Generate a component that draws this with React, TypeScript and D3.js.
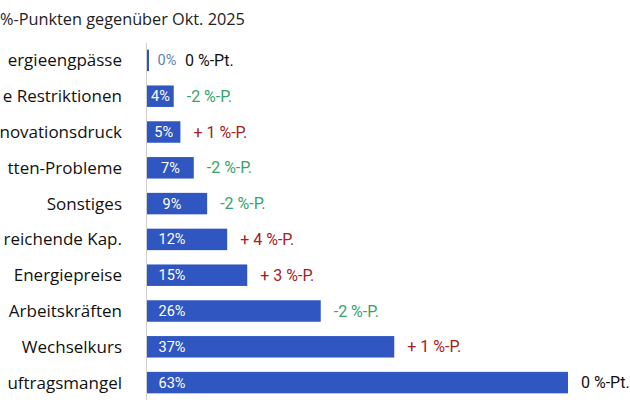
import React from "react";
import * as d3 from "d3";

const categories = [
  "ergieengpässe",
  "e Restriktionen",
  "novationsdruck",
  "tten-Probleme",
  "Sonstiges",
  "reichende Kap.",
  "Energiepreise",
  "Arbeitskräften",
  "Wechselkurs",
  "uftragsmangel",
];
const values = [0, 4, 5, 7, 9, 12, 15, 26, 37, 63];
const changes = [0, -2, 1, -2, -2, 4, 3, -2, 1, 0];
const changeLabels = ["0 %-Pt.", "-2 %-P.", "+ 1 %-P.", "-2 %-P.", "-2 %-P.", "+ 4 %-P.", "+ 3 %-P.", "-2 %-P.", "+ 1 %-P.", "0 %-Pt."];
const title = "%-Punkten gegenüber Okt. 2025";

const W = 630;
const H = 412;
const x0 = 147;

export default function App() {
  const x = d3.scaleLinear().domain([0, 63]).range([x0, 568]);
  const y = d3
    .scaleBand<number>()
    .domain(d3.range(categories.length))
    .range([42.5, 400.5])
    .paddingInner(0.4)
    .paddingOuter(0.2);
  const bh = y.bandwidth();
  const changeColor = (c: number) => (c > 0 ? "#a3201f" : c < 0 ? "#36a46a" : "#111111");

  return (
    <svg width={W} height={H} style={{ position: "absolute", left: 0, top: 0, background: "#fff" }}>
      <text x={0} y={24.5} fontFamily="'Open Sans', sans-serif" fontSize={16.3} fill="#222">
        {title}
      </text>
      {categories.map((c, i) => {
        const cy = (y(i) as number) + bh / 2;
        const v = values[i];
        const xe = x(v);
        const labelCx = v === 0 ? x0 + 20 : Math.min(172, (x0 + xe) / 2);
        const changeX = v === 0 ? x0 + 38 : xe + 13;
        return (
          <g key={c}>
            <text x={122} y={cy} dy="0.35em" textAnchor="end" fontFamily="'Open Sans', sans-serif" fontSize={17} fill="#111">
              {c}
            </text>
            <rect x={x0} y={y(i)} width={Math.max(xe - x0, 2)} height={bh} fill="#3057c1" />
            <text
              x={labelCx}
              y={cy}
              dy="0.35em"
              textAnchor="middle"
              fontFamily="Roboto, sans-serif"
              fontSize={14.5}
              fill={v === 0 ? "#5b82b0" : "#fff"}
            >
              {v}%
            </text>
            <text x={changeX} y={cy} dy="0.35em" fontFamily="Roboto, sans-serif" fontSize={16} fill={changeColor(changes[i])}>
              {changeLabels[i]}
            </text>
          </g>
        );
      })}
      <line x1={x0 - 0.5} x2={x0 - 0.5} y1={43} y2={400} stroke="#d0d0d0" strokeWidth={1} />
    </svg>
  );
}
